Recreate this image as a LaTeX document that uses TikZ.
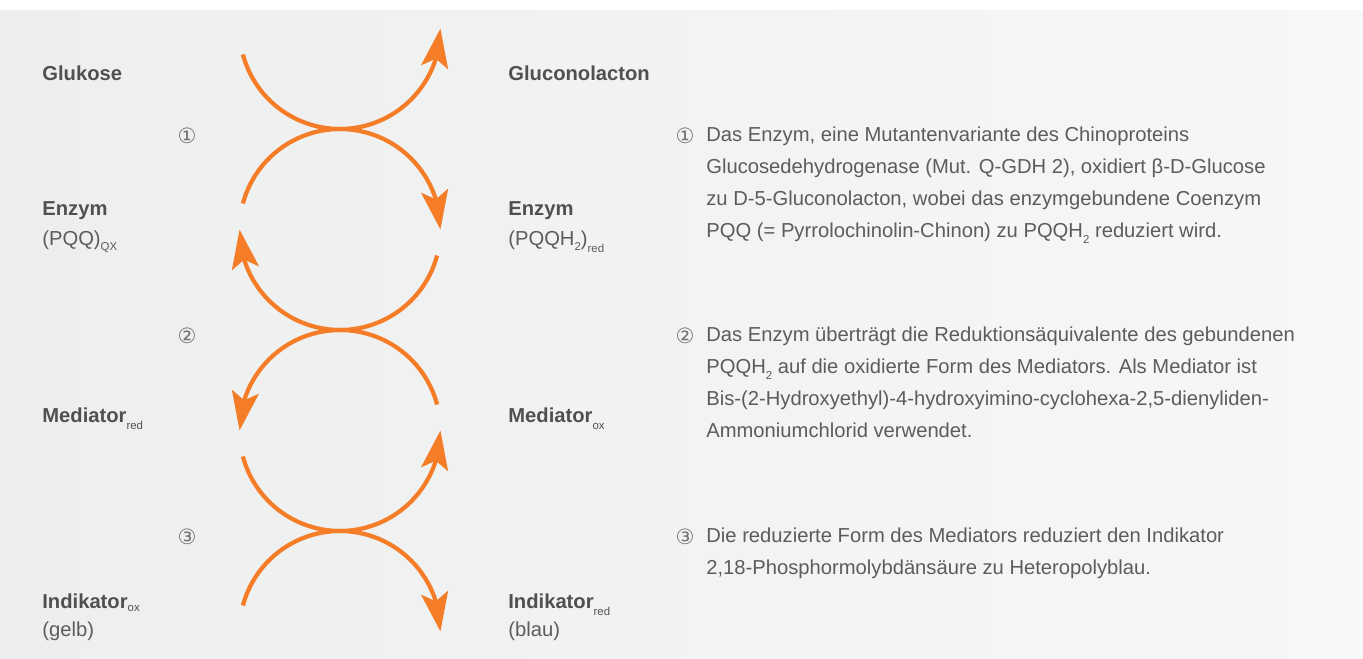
\documentclass[tikz,border=0pt]{standalone}
\usepackage{fontspec}
\setmainfont{Liberation Sans}
\newfontfamily\circfont{DejaVu Sans}
\usetikzlibrary{arrows.meta,bending,positioning}
\definecolor{Reaction}{RGB}{245,125,40}
\definecolor{LabelGray}{RGB}{80,80,80}
\definecolor{TextGray}{RGB}{92,92,92}
\definecolor{NumGray}{RGB}{115,115,115}
\definecolor{PanelLeft}{RGB}{237,238,238}
\definecolor{PanelRight}{RGB}{247,247,247}
\newcommand{\lowidx}[2][4.5pt]{\raisebox{-#1}{\fontsize{6.5}{7}\selectfont\mdseries #2}}

\begin{document}
\begin{tikzpicture}[
    x=0.02cm, y=0.02cm,
    chem/.style={anchor=base west, inner sep=0pt, text=LabelGray,
      font=\fontsize{11.5}{14}\selectfont\bfseries},
    state/.style={anchor=base west, inner sep=0pt, text=TextGray,
      font=\fontsize{11.5}{14}\selectfont},
    stepnum/.style={inner sep=0pt, text=NumGray, font=\circfont\fontsize{12}{14}\selectfont},
    note/.style={anchor=north west, inner sep=0pt, align=left, text=TextGray,
      font=\fontsize{11.5}{18.2}\selectfont},
    react/.style={draw=Reaction, line width=2.4pt,
      -{Stealth[length=0.78cm, width=0.54cm, inset=0.17cm, flex]}}
  ]
    \useasboundingbox (0,0) rectangle (1363,-659);
    \fill[white] (0,0) rectangle (1363,-659);
    \shade[left color=PanelLeft, right color=PanelRight] (0,-10) rectangle (1363,-659);

    % Stoffe links und rechts
    \node[chem] (gluL) at (42,-80) {Glukose};
    \node[chem] (gluR) at (508,-80) {Gluconolacton};
    \node[chem] (enzL) at (42,-215) {Enzym};
    \node[state] (pqqL) at (42,-245) {(PQQ)\lowidx[3.2pt]{QX}};
    \node[chem] (enzR) at (508,-215) {Enzym};
    \node[state] (pqqR) at (508,-245) {(PQQH\lowidx[3pt]{2})\lowidx[4pt]{red}};
    \node[chem] (medL) at (42,-422) {Mediator\lowidx{red}};
    \node[chem] (medR) at (508,-422) {Mediator\lowidx{ox}};
    \node[chem] (indL) at (42,-608) {Indikator\lowidx[2pt]{ox}};
    \node[state] (gelb) at (42,-636) {(gelb)};
    \node[chem] (indR) at (508,-608) {Indikator\lowidx{red}};
    \node[state] (blau) at (508,-636) {(blau)};

    % Schrittnummern
    \node[stepnum] (s1) at (187,-136) {①};
    \node[stepnum] (s2) at (187,-336) {②};
    \node[stepnum] (s3) at (187,-537) {③};

    % Reaktionsbögen
    \coordinate (a1) at (242.9,-54.5);
    \coordinate (a2) at (242.9,-203.5);
    \coordinate (a3) at (437.1,-255.5);
    \coordinate (a4) at (437.1,-404.5);
    \coordinate (a5) at (242.9,-456.5);
    \coordinate (a6) at (242.9,-605.5);
    \draw[react] (a1) arc[start angle=195, end angle=360, radius=2.01cm];
    \draw[react] (a2) arc[start angle=165, end angle=0, radius=2.01cm];
    \draw[react] (a3) arc[start angle=-15, end angle=-180, radius=2.01cm];
    \draw[react] (a4) arc[start angle=15, end angle=180, radius=2.01cm];
    \draw[react] (a5) arc[start angle=195, end angle=360, radius=2.01cm];
    \draw[react] (a6) arc[start angle=165, end angle=0, radius=2.01cm];

    % Erläuterungen
    \node[stepnum] (n1) at (685,-136) {①};
    \node[note] (t1) at (706,-127) {Das Enzym, eine Mutantenvariante des Chinoproteins\\
      Glucosedehydrogenase (Mut. Q-GDH 2), oxidiert β-D-Glucose\\
      zu D-5-Gluconolacton, wobei das enzymgebundene Coenzym\\
      PQQ (= Pyrrolochinolin-Chinon) zu PQQH\lowidx[3pt]{2} reduziert wird.};
    \node[stepnum] (n2) at (685,-336) {②};
    \node[note] (t2) at (706,-327) {Das Enzym überträgt die Reduktionsäquivalente des gebundenen\\
      PQQH\lowidx[3pt]{2} auf die oxidierte Form des Mediators. Als Mediator ist\\
      Bis-(2-Hydroxyethyl)-4-hydroxyimino-cyclohexa-2,5-dienyliden-\\
      Ammoniumchlorid verwendet.};
    \node[stepnum] (n3) at (685,-537) {③};
    \node[note] (t3) at (706,-528) {Die reduzierte Form des Mediators reduziert den Indikator\\
      2,18-Phosphormolybdänsäure zu Heteropolyblau.};
  \end{tikzpicture}
\end{document}
